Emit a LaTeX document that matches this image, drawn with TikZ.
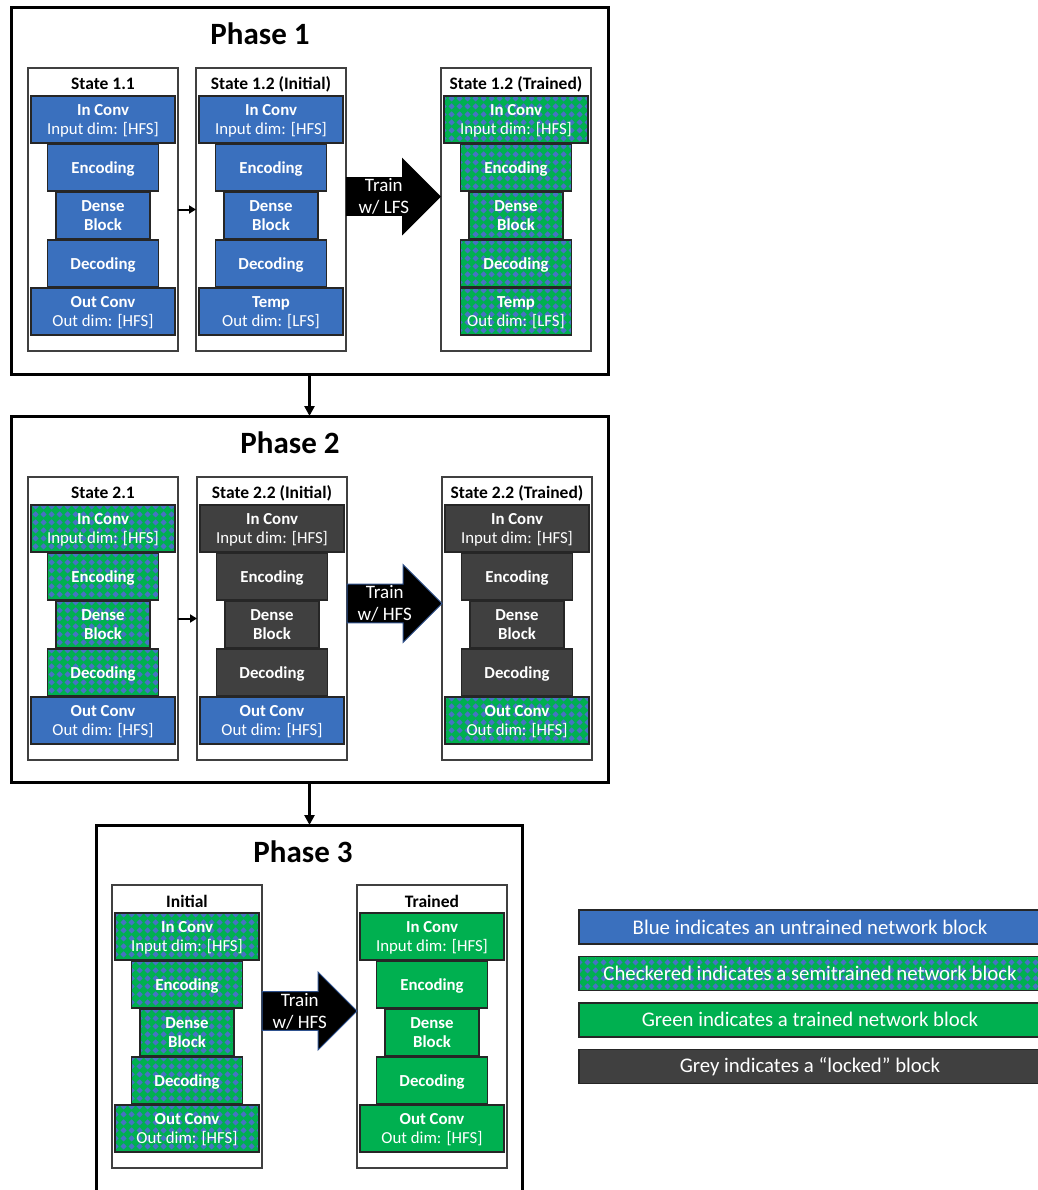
\documentclass[tikz,border=0pt]{standalone}
\usepackage{fontspec}
\setmainfont{Carlito}
\usetikzlibrary{positioning,shapes.arrows,arrows.meta,patterns.meta}

\definecolor{untrblue}{RGB}{58,112,190}
\definecolor{trngreen}{RGB}{0,176,80}
\definecolor{lockgrey}{RGB}{64,64,64}
\definecolor{dotblue}{RGB}{72,114,196}
\definecolor{arrowedge}{RGB}{47,82,143}

% blue diamonds on the semitrained blocks
\tikzdeclarepattern{
  name=diamondgrid,
  type=uncolored,
  bounding box={(0,0) and (4pt,4pt)},
  tile size={(4pt,4pt)},
  code={\fill (2pt,0.3pt) -- (3.7pt,2pt) -- (2pt,3.7pt) -- (0.3pt,2pt) -- cycle;}
}

\begin{document}
\begin{tikzpicture}[x=0.5pt,y=-0.5pt,
    blk/.style={
      % The shape:
      rectangle,minimum height=23.5pt,inner sep=0pt,outer sep=0pt,
      % The rest
      draw=black!85,line width=0.7pt,text=white,align=center,
      font=\fontsize{8.4}{9.6}\selectfont,text depth=-5pt},
    widebox/.style={minimum width=72pt},
    midbox/.style={minimum width=55.5pt},
    slimbox/.style={minimum width=47pt},
    untr/.style={blk,fill=untrblue},
    semitr/.style={blk,preaction={fill=trngreen},pattern=diamondgrid,pattern color=dotblue},
    trnd/.style={blk,fill=trngreen},
    lockd/.style={blk,fill=lockgrey},
    stateframe/.style={draw=black!75,line width=0.65pt,fill=white,
      minimum width=75pt,minimum height=141.5pt,inner sep=0pt,outer sep=0pt},
    stitle/.style={font=\bfseries\fontsize{8.75}{10}\selectfont,inner sep=0pt},
    phasebox/.style={draw=black,line width=1.5pt,inner sep=0pt,outer sep=0pt},
    ptitle/.style={font=\bfseries\fontsize{15.5}{18}\selectfont},
    train/.style={single arrow,fill=black,text=white,align=center,
      minimum height=47.5pt,single arrow head extend=9.75pt,inner sep=0.5pt,outer sep=0pt,
      font=\fontsize{9.5}{11}\selectfont},
    legend/.style={draw=black!85,line width=0.7pt,text=white,inner sep=0pt,
      minimum width=231pt,minimum height=17pt,font=\fontsize{10.4}{12}\selectfont},
    smallarrow/.style={-{Triangle[length=3.5pt,width=4pt]},line width=1pt},
    phasearrow/.style={-{Triangle[length=5pt,width=5pt]},line width=1.5pt}]
    \useasboundingbox (0,0) rectangle (1038,1190);
    \clip (0,0) rectangle (1038,1190);

    % Phase 1
    \node (ph1) [phasebox,minimum width=298.5pt,minimum height=183.5pt] at (309.5,190.5) {};
    \node [ptitle] at (260,34) {Phase 1};
    \node (s11) [stateframe] at (103,209.5) {};
    \node (s12i) [stateframe,right=9pt of s11] {};
    \node (s12t) [stateframe,right=47.5pt of s12i] {};
    \node (tr1) [train,right=0pt of s12i,yshift=6.5pt] {Train\\w/ LFS};
    \node [stitle] at ([yshift=-8pt]s11.north) {State 1.1};
    \node [stitle] at ([yshift=-8pt]s12i.north) {State 1.2 (Initial)};
    \node [stitle] at ([yshift=-8pt]s12t.north) {State 1.2 (Trained)};

    \node (inc11) [untr,widebox,anchor=north] at ([yshift=-14pt]s11.north) {\textbf{In Conv}\\Input dim: [HFS]};
    \node (enc11) [untr,midbox,below=0.5pt of inc11] {\textbf{Encoding}};
    \node (den11) [untr,slimbox,below=0.5pt of enc11] {\textbf{Dense}\\\textbf{Block}};
    \node (dec11) [untr,midbox,below=0.5pt of den11] {\textbf{Decoding}};
    \node (out11) [untr,widebox,below=0.5pt of dec11] {\textbf{Out Conv}\\Out dim: [HFS]};

    \node (inc12i) [untr,widebox,anchor=north] at ([yshift=-14pt]s12i.north) {\textbf{In Conv}\\Input dim: [HFS]};
    \node (enc12i) [untr,midbox,below=0.5pt of inc12i] {\textbf{Encoding}};
    \node (den12i) [untr,slimbox,below=0.5pt of enc12i] {\textbf{Dense}\\\textbf{Block}};
    \node (dec12i) [untr,midbox,below=0.5pt of den12i] {\textbf{Decoding}};
    \node (tmp12i) [untr,widebox,below=0.5pt of dec12i] {\textbf{Temp}\\Out dim: [LFS]};

    \node (inc12t) [semitr,widebox,anchor=north] at ([yshift=-14pt]s12t.north) {\textbf{In Conv}\\Input dim: [HFS]};
    \node (enc12t) [semitr,midbox,below=0.5pt of inc12t] {\textbf{Encoding}};
    \node (den12t) [semitr,slimbox,below=0.5pt of enc12t] {\textbf{Dense}\\\textbf{Block}};
    \node (dec12t) [semitr,midbox,below=0.5pt of den12t] {\textbf{Decoding}};
    \node (tmp12t) [semitr,midbox,below=0.5pt of dec12t] {\textbf{Temp}\\Out dim: [LFS]};

    \draw[smallarrow] (s11) -- (s12i);

    % Phase 2
    \node (ph2) [phasebox,minimum width=298.5pt,minimum height=183pt] at (309.5,599) {};
    \node [ptitle] at (290,443) {Phase 2};
    \node (s21) [stateframe] at (103,618.5) {};
    \node (s22i) [stateframe,right=9.5pt of s21] {};
    \node (s22t) [stateframe,right=47.5pt of s22i] {};
    \node (tr2) [train,draw=arrowedge,line width=0.5pt,right=0pt of s22i,yshift=7.5pt] {Train\\w/ HFS};
    \node [stitle] at ([yshift=-8pt]s21.north) {State 2.1};
    \node [stitle] at ([yshift=-8pt]s22i.north) {State 2.2 (Initial)};
    \node [stitle] at ([yshift=-8pt]s22t.north) {State 2.2 (Trained)};

    \node (inc21) [semitr,widebox,anchor=north] at ([yshift=-14pt]s21.north) {\textbf{In Conv}\\Input dim: [HFS]};
    \node (enc21) [semitr,midbox,below=0.5pt of inc21] {\textbf{Encoding}};
    \node (den21) [semitr,slimbox,below=0.5pt of enc21] {\textbf{Dense}\\\textbf{Block}};
    \node (dec21) [semitr,midbox,below=0.5pt of den21] {\textbf{Decoding}};
    \node (out21) [untr,widebox,below=0.5pt of dec21] {\textbf{Out Conv}\\Out dim: [HFS]};

    \node (inc22i) [lockd,widebox,anchor=north] at ([yshift=-14pt]s22i.north) {\textbf{In Conv}\\Input dim: [HFS]};
    \node (enc22i) [lockd,midbox,below=0.5pt of inc22i] {\textbf{Encoding}};
    \node (den22i) [lockd,slimbox,below=0.5pt of enc22i] {\textbf{Dense}\\\textbf{Block}};
    \node (dec22i) [lockd,midbox,below=0.5pt of den22i] {\textbf{Decoding}};
    \node (out22i) [untr,widebox,below=0.5pt of dec22i] {\textbf{Out Conv}\\Out dim: [HFS]};

    \node (inc22t) [lockd,widebox,anchor=north] at ([yshift=-14pt]s22t.north) {\textbf{In Conv}\\Input dim: [HFS]};
    \node (enc22t) [lockd,midbox,below=0.5pt of inc22t] {\textbf{Encoding}};
    \node (den22t) [lockd,slimbox,below=0.5pt of enc22t] {\textbf{Dense}\\\textbf{Block}};
    \node (dec22t) [lockd,midbox,below=0.5pt of den22t] {\textbf{Decoding}};
    \node (out22t) [semitr,widebox,below=0.5pt of dec22t] {\textbf{Out Conv}\\Out dim: [HFS]};

    \draw[smallarrow] (s21) -- (s22i);

    % Phase 3
    \node (ph3) [phasebox,minimum width=213pt,minimum height=195pt] at (309.5,1020) {};
    \node [ptitle] at (303,852) {Phase 3};
    \node (s3i) [stateframe] at (187,1026.5) {};
    \node (s3t) [stateframe,right=47.5pt of s3i] {};
    \node (tr3) [train,draw=arrowedge,line width=0.5pt,right=0pt of s3i,yshift=7.75pt] {Train\\w/ HFS};
    \node [stitle] at ([yshift=-8pt]s3i.north) {Initial};
    \node [stitle] at ([yshift=-8pt]s3t.north) {Trained};

    \node (inc3i) [semitr,widebox,anchor=north] at ([yshift=-14pt]s3i.north) {\textbf{In Conv}\\Input dim: [HFS]};
    \node (enc3i) [semitr,midbox,below=0.5pt of inc3i] {\textbf{Encoding}};
    \node (den3i) [semitr,slimbox,below=0.5pt of enc3i] {\textbf{Dense}\\\textbf{Block}};
    \node (dec3i) [semitr,midbox,below=0.5pt of den3i] {\textbf{Decoding}};
    \node (out3i) [semitr,widebox,below=0.5pt of dec3i] {\textbf{Out Conv}\\Out dim: [HFS]};

    \node (inc3t) [trnd,widebox,anchor=north] at ([yshift=-14pt]s3t.north) {\textbf{In Conv}\\Input dim: [HFS]};
    \node (enc3t) [trnd,midbox,below=0.5pt of inc3t] {\textbf{Encoding}};
    \node (den3t) [trnd,slimbox,below=0.5pt of enc3t] {\textbf{Dense}\\\textbf{Block}};
    \node (dec3t) [trnd,midbox,below=0.5pt of den3t] {\textbf{Decoding}};
    \node (out3t) [trnd,widebox,below=0.5pt of dec3t] {\textbf{Out Conv}\\Out dim: [HFS]};

    \draw[phasearrow] (ph1) -- (ph2);
    \draw[phasearrow] (ph2) -- (ph3);

    % Legend
    \node (lgblue) [legend,fill=untrblue] at (810,927) {Blue indicates an untrained network block};
    \node (lgsemi) [legend,preaction={fill=trngreen},pattern=diamondgrid,pattern color=dotblue,below=5.5pt of lgblue] {Checkered indicates a semitrained network block};
    \node (lggreen) [legend,fill=trngreen,below=5.5pt of lgsemi] {Green indicates a trained network block};
    \node (lggrey) [legend,fill=lockgrey,below=5.5pt of lggreen] {Grey indicates a “locked” block};
  \end{tikzpicture}
\end{document}
